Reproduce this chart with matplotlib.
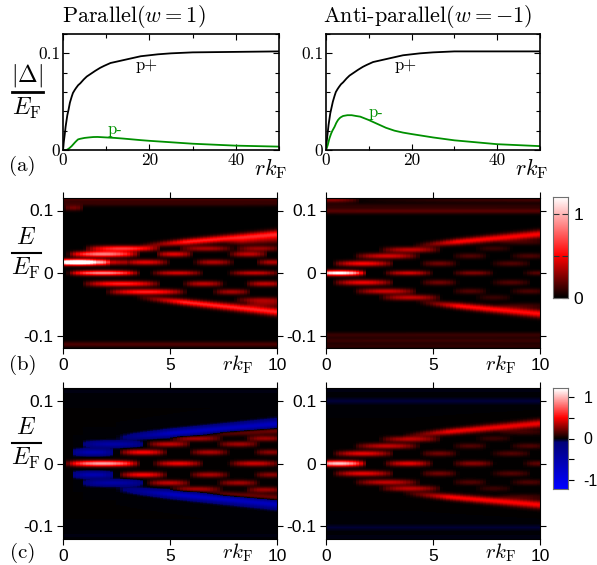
import matplotlib
matplotlib.use("Agg")
import matplotlib.pyplot as plt
from matplotlib.colors import LinearSegmentedColormap, Normalize
from matplotlib.lines import Line2D
from matplotlib.ticker import MultipleLocator
import numpy as np

W, H = 597, 565

plt.rcParams['mathtext.fontset'] = 'cm'
plt.rcParams['font.family'] = ['cmr10', 'DejaVu Sans']
plt.rcParams['axes.formatter.use_mathtext'] = True

# top row, gap vs r
r_plus = [0, 0.2, 0.4, 0.6, 0.8, 1, 1.3, 1.6, 2, 2.3, 2.7, 3, 3.5, 4, 4.8, 5.5, 6.5, 7.5, 8.6, 9.5, 11, 12, 13, 14, 16, 18, 20, 22, 25, 30, 40, 50]
plus_left = [0, 0.009, 0.016, 0.024, 0.030, 0.036, 0.042, 0.049, 0.055, 0.059, 0.062, 0.064, 0.067, 0.069, 0.073, 0.076, 0.079, 0.082, 0.085, 0.087, 0.090, 0.091, 0.092, 0.093, 0.095, 0.097, 0.098, 0.099, 0.100, 0.101, 0.1015, 0.102]
plus_right = [0, 0.010, 0.018, 0.026, 0.032, 0.038, 0.044, 0.050, 0.056, 0.060, 0.063, 0.065, 0.068, 0.070, 0.074, 0.077, 0.080, 0.083, 0.086, 0.088, 0.091, 0.092, 0.093, 0.094, 0.096, 0.098, 0.099, 0.100, 0.101, 0.102, 0.102, 0.102]

r_minus = [0, 0.4, 0.8, 1.2, 1.5, 2, 2.4, 2.8, 3.2, 3.5, 4, 5, 6, 7, 8, 10, 12, 14, 16, 18, 20, 25, 30, 35, 40, 50]
minus_left = [0, 0, 0, 0.001, 0.002, 0.004, 0.006, 0.008, 0.0098, 0.011, 0.0116, 0.0125, 0.013, 0.0134, 0.0135, 0.013, 0.0125, 0.0118, 0.011, 0.0102, 0.0095, 0.008, 0.0065, 0.0055, 0.0045, 0.0035]
minus_right = [0, 0.005, 0.012, 0.017, 0.020, 0.024, 0.028, 0.031, 0.033, 0.034, 0.0352, 0.036, 0.036, 0.0352, 0.0345, 0.031, 0.027, 0.023, 0.020, 0.018, 0.0165, 0.013, 0.010, 0.008, 0.006, 0.004]

# bands: r start, r end, E at start, E at end, height
bands_b_left = [
    (-0.8, 2.2, 0.018, 0.018, 1.55), (1.7, 3.0, 0.018, 0.018, 0.4), (2.7, 5, 0.018, 0.018, 0.45),
    (6.1, 8, 0.018, 0.018, 0.35), (9, 10.6, 0.018, 0.018, 0.35),
    (0.2, 3.6, 0, 0, 0.95), (4.1, 6.6, 0, 0, 0.45), (7.7, 10.2, 0, 0, 0.42),
    (0.2, 3.6, 0.031, 0.031, 0.85), (4.3, 6.1, 0.031, 0.031, 0.45), (7.7, 9.6, 0.031, 0.031, 0.38),
    (1.0, 4.6, 0.04, 0.04, 0.65), (5.4, 8, 0.04, 0.04, 0.33), (8, 10.3, 0.04, 0.04, 0.3),
    (3.5, 10, 0.044, 0.063, 0.58), (7.5, 10, 0.049, 0.054, 0.22),
    (0.9, 4.6, -0.018, -0.018, 0.58), (5.6, 7.6, -0.018, -0.018, 0.38), (8.5, 10.4, -0.018, -0.018, 0.38),
    (2, 5.8, -0.031, -0.031, 0.58), (7, 8.8, -0.031, -0.031, 0.33),
    (3.3, 10, -0.039, -0.063, 0.6), (8, 10.6, -0.044, -0.044, 0.3), (8.5, 10.6, -0.05, -0.05, 0.22),
    (0, 1.0, 0.105, 0.105, 0.22), (-20, 30, 0.112, 0.112, 0.1), (-20, 30, 0.12, 0.12, 0.15),
    (-20, 30, -0.115, -0.115, 0.15),
]
bands_b_right = [
    (-0.7, 1.9, 0, 0, 1.35), (2.7, 5.0, 0, 0, 0.45), (5.9, 7.9, 0, 0, 0.27), (9.2, 10.8, 0, 0, 0.19),
    (0.3, 3.2, 0.016, 0.016, 0.5), (4.4, 6.2, 0.016, 0.016, 0.22), (7.7, 9.6, 0.016, 0.016, 0.16),
    (0.3, 3.2, -0.016, -0.016, 0.47), (4.4, 6.2, -0.016, -0.016, 0.22), (7.7, 9.6, -0.016, -0.016, 0.16),
    (1.3, 4.4, 0.028, 0.028, 0.42), (5.9, 7.6, 0.028, 0.028, 0.16), (8.6, 10.4, 0.028, 0.028, 0.15),
    (1.3, 4.3, -0.03, -0.03, 0.4), (5.9, 7.6, -0.03, -0.03, 0.16), (8.6, 10.4, -0.03, -0.03, 0.15),
    (2.5, 5.4, 0.038, 0.038, 0.38), (7, 8.7, 0.04, 0.04, 0.11),
    (2.5, 5.4, -0.04, -0.04, 0.38), (7, 8.7, -0.04, -0.04, 0.11),
    (4, 10, 0.044, 0.063, 0.5), (4.2, 10, -0.047, -0.066, 0.53),
    (8, 10.6, 0.05, 0.05, 0.11), (8, 10.6, -0.053, -0.053, 0.11),
    (-1, 1.6, 0.118, 0.118, 0.27), (1, 30, 0.118, 0.118, 0.15), (-20, 30, 0.108, 0.108, 0.08),
    (-20, 30, 0.1, 0.1, 0.17), (-20, 30, -0.1, -0.1, 0.11), (-20, 30, -0.109, -0.109, 0.11),
    (-20, 30, -0.118, -0.118, 0.09),
]
bands_c_left = [
    (0.1, 3.6, 0, 0, 0.95), (4.2, 6.6, 0, 0, 0.47), (7.7, 10.2, 0, 0, 0.4),
    (0.4, 2.4, 0.018, 0.018, -0.55), (2.6, 4.9, 0.018, 0.018, 0.5), (5.9, 7.8, 0.018, 0.018, 0.34), (8.9, 10.5, 0.018, 0.018, 0.27),
    (0.4, 2.4, -0.018, -0.018, -0.55), (2.6, 4.9, -0.018, -0.018, 0.5), (5.9, 7.8, -0.018, -0.018, 0.34), (8.9, 10.5, -0.018, -0.018, 0.27),
    (0.9, 3.8, 0.031, 0.031, -0.45), (3.9, 6.0, 0.031, 0.031, 0.38), (7.2, 9.2, 0.031, 0.031, 0.32),
    (0.9, 3.8, -0.031, -0.031, -0.45), (3.9, 6.0, -0.031, -0.031, 0.38), (7.2, 9.2, -0.031, -0.031, 0.32),
    (5.0, 7.5, 0.04, 0.04, 0.32), (8.5, 10.4, 0.04, 0.04, 0.3),
    (5.0, 7.5, -0.041, -0.041, 0.32), (8.5, 10.4, -0.042, -0.042, 0.3),
    (2.5, 10, 0.041, 0.063, -0.68), (2.5, 10, -0.041, -0.065, -0.68),
    (6.3, 10, 0.047, 0.054, 0.27), (6.3, 10, -0.047, -0.056, 0.27),
    (-20, 30, 0.115, 0.115, -0.012), (-20, 30, -0.115, -0.115, -0.012),
]
bands_c_right = [
    (-0.7, 1.9, 0, 0, 1.05), (2.7, 5.0, 0, 0, 0.45), (5.9, 7.9, 0, 0, 0.27), (9.2, 10.8, 0, 0, 0.19),
    (0.3, 3.2, 0.016, 0.016, 0.45), (4.4, 6.2, 0.016, 0.016, 0.22), (7.7, 9.6, 0.016, 0.016, 0.16),
    (0.3, 3.2, -0.016, -0.016, 0.45), (4.4, 6.2, -0.016, -0.016, 0.22), (7.7, 9.6, -0.016, -0.016, 0.16),
    (1.3, 4.4, 0.028, 0.028, 0.38), (5.9, 7.6, 0.028, 0.028, 0.16), (8.6, 10.4, 0.028, 0.028, 0.15),
    (1.3, 4.4, -0.03, -0.03, 0.38), (5.9, 7.6, -0.03, -0.03, 0.16), (8.6, 10.4, -0.03, -0.03, 0.15),
    (2.5, 5.4, 0.039, 0.039, 0.36), (7, 8.7, 0.04, 0.04, 0.11),
    (2.5, 5.4, -0.04, -0.04, 0.36), (7, 8.7, -0.04, -0.04, 0.11),
    (3.5, 10, 0.044, 0.064, 0.47), (3.5, 10, -0.047, -0.066, 0.5),
    (8, 10.6, 0.05, 0.05, 0.11), (8, 10.6, -0.053, -0.053, 0.11),
    (-20, 30, 0.1, 0.1, -0.045), (-20, 30, 0.117, 0.117, -0.016),
    (-20, 30, -0.102, -0.102, -0.04), (-20, 30, -0.118, -0.118, -0.016),
]

r_cells = (np.arange(64) + 0.5) * 10 / 64
e_cells = np.linspace(-0.12, 0.12, 151)


def build_map(bands):
    out = np.zeros((len(e_cells), len(r_cells)))
    for r0, r1, e0, e1, amp in bands:
        t = np.clip((r_cells - r0) / (r1 - r0), 0, 1)
        if e0 == e1:
            env = np.sin(np.pi * t) ** 0.7
            width = np.full_like(t, 0.0046)
        else:
            # the outer bands fade in, keep going to the edge and widen
            env = np.clip(t / 0.35, 0, 1)
            width = 0.0044 + 0.0022 * t
        centre = e0 + (e1 - e0) * t
        for j in range(len(r_cells)):
            out[:, j] += amp * env[j] * np.exp(-((e_cells - centre[j]) / width[j]) ** 2)
    return out


cmap_b = LinearSegmentedColormap.from_list('kr', [(0, 'black'), (0.42, '#ff0000'), (1, 'white')])
cmap_c = LinearSegmentedColormap.from_list('bkr', [
    (0, '#0000ff'), (0.46, '#00007a'), (0.5, 'black'), (0.71, '#ff0000'), (1, 'white')])


def ax_px(x0, y0, x1, y1):
    return fig.add_axes([x0 / W, 1 - y1 / H, (x1 - x0) / W, (y1 - y0) / H])


def put(x, y, s, size=14, **kw):
    kw.setdefault('ha', 'center')
    kw.setdefault('va', 'center')
    fig.text(x / W, 1 - y / H, s, fontsize=size, **kw)


fig = plt.figure(figsize=(W / 100, H / 100), dpi=100)

# (a) row
for x0, x1, p, m, ttl, px, mx, my in [
    (63, 279, plus_left, minus_left, r'Parallel$(w=1)$', 16.9, 10.2, 0.0217),
    (326, 540, plus_right, minus_right, r'Anti-parallel$(w=-1)$', 16, 10, 0.039),
]:
    ax = ax_px(x0, 34, x1, 150)
    ax.plot(r_plus, p, color='black', lw=1.3)
    ax.plot(r_minus, m, color='#009000', lw=1.3)
    ax.set_xlim(0, 50)
    ax.set_ylim(0, 0.12)
    ax.xaxis.set_minor_locator(MultipleLocator(10))
    ax.yaxis.set_minor_locator(MultipleLocator(0.02))
    ax.set_yticks([0, 0.1], ['0', '0.1'])
    ax.set_xticks([0, 20, 40], ['0', '20', '40'])
    ax.tick_params(which='both', direction='in', top=True, right=True, labelsize=12.5, pad=2, length=3, width=0.8)
    ax.tick_params(which='major', length=4)
    for s in ax.spines.values():
        s.set_linewidth(1.2)
    ax.text(px, 0.088, 'p+', fontsize=12, ha='left', va='center', color='black')
    ax.text(mx, my, 'p-', fontsize=12, ha='left', va='center', color='#009000')
    put(x0 - 1 if x0 == 63 else x0 - 3, 17, ttl, size=16, ha='left')
    put(x1 + 8, 169, r'$rk_{\mathrm{F}}$', size=16, ha='right')

put(22, 166, '(a)', size=15)
put(27, 76, r'$|\Delta|$', size=17)
put(27, 108, r'$E_{\mathrm{F}}$', size=17)
fig.add_artist(Line2D([12 / W, 43 / W], [1 - 92 / H, 1 - 92 / H], color='black', lw=2))

# (b) and (c) rows
maps = [
    (63, 277, 198, 348, bands_b_left, cmap_b, Normalize(0, 1.2)),
    (326, 540, 198, 348, bands_b_right, cmap_b, Normalize(0, 1.2)),
    (63, 277, 388, 539, bands_c_left, cmap_c, Normalize(-1.2, 1.2)),
    (326, 540, 388, 539, bands_c_right, cmap_c, Normalize(-1.2, 1.2)),
]
for x0, x1, y0, y1, bands, cmap, norm in maps:
    ax = ax_px(x0, y0, x1, y1)
    ax.imshow(build_map(bands), origin='lower', aspect='auto', cmap=cmap, norm=norm,
              extent=[0, 10, -0.12, 0.12], interpolation='nearest')
    ax.set_xticks([0, 5, 10], ['0', '5', '10'], family='Liberation Sans')
    ax.set_yticks([-0.1, 0, 0.1], ['-0.1', '0', '0.1'], family='Liberation Sans')
    ax.tick_params(direction='out', top=True, right=True, labelsize=12.5, length=4, width=0.8, pad=3)
    for s in ax.spines.values():
        s.set_linewidth(0.8)
    put(x1 - 24, y1 + (17 if y0 < 300 else 14), r'$rk_{\mathrm{F}}$', size=15, ha='right')

put(23, 365, '(b)', size=15)
put(23, 553, '(c)', size=15)
for yc in [253, 443]:
    put(26, yc - 15, r'$E$', size=17)
    put(26, yc + 15, r'$E_{\mathrm{F}}$', size=17)
    fig.add_artist(Line2D([12 / W, 41 / W], [1 - yc / H, 1 - yc / H], color='black', lw=1.5))

# colour bars
cax = ax_px(553, 197, 568, 298)
cax.imshow(np.linspace(0, 1.2, 200)[:, None], origin='lower', aspect='auto', cmap=cmap_b,
           norm=Normalize(0, 1.2), extent=[0, 1, 0, 1.2])
cax.set_xticks([])
cax.set_yticks([0, 0.5, 1], ['0', '', '1'], family='Liberation Sans')
cax.yaxis.tick_right()
cax.tick_params(axis='y', direction='in', left=True, right=True, labelsize=12.5, length=4, width=0.8, color='#303030', pad=4)
for s in cax.spines.values():
    s.set_color('#707070')

cax = ax_px(553, 388, 568, 489)
cax.imshow(np.linspace(-1.22, 1.22, 300)[:, None], origin='lower', aspect='auto', cmap=cmap_c,
           norm=Normalize(-1.2, 1.2), extent=[0, 1, -1.22, 1.22])
cax.set_xticks([])
cax.set_yticks([-1, -0.5, 0, 0.5, 1], ['-1', '', '0', '', '1'], family='Liberation Sans')
cax.yaxis.tick_right()
cax.tick_params(axis='y', direction='out', labelsize=11.5, length=4, width=0.8, pad=7)
for s in cax.spines.values():
    s.set_color('#707070')

fig.savefig('out.png', dpi=100)
